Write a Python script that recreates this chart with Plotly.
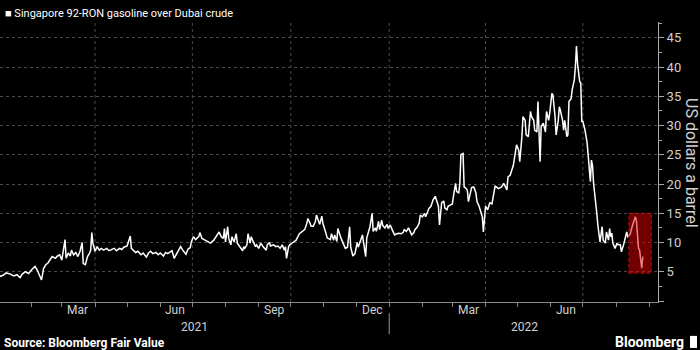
import plotly.graph_objects as go

dates = [
"2021-01-02","2021-01-05","2021-01-08","2021-01-12","2021-01-15","2021-01-18","2021-01-21","2021-01-23","2021-01-26","2021-01-29",
"2021-02-01","2021-02-04","2021-02-06","2021-02-08","2021-02-10","2021-02-12","2021-02-14","2021-02-16","2021-02-18","2021-02-20",
"2021-02-23","2021-02-25","2021-02-27","2021-03-01","2021-03-02","2021-03-04","2021-03-05","2021-03-07","2021-03-09","2021-03-10",
"2021-03-12","2021-03-14","2021-03-16","2021-03-18","2021-03-20","2021-03-21","2021-03-23","2021-03-25","2021-03-27","2021-03-28",
"2021-03-29","2021-03-30","2021-04-01","2021-04-03","2021-04-05","2021-04-07","2021-04-09","2021-04-12","2021-04-14","2021-04-17",
"2021-04-19","2021-04-21","2021-04-24","2021-04-26","2021-04-28","2021-05-01","2021-05-02","2021-05-04","2021-05-05","2021-05-07",
"2021-05-09","2021-05-11","2021-05-14","2021-05-16","2021-05-19","2021-05-21","2021-05-23","2021-05-25","2021-05-28","2021-05-30",
"2021-06-01","2021-06-04","2021-06-06","2021-06-08",
"2021-06-12","2021-06-14","2021-06-16","2021-06-18","2021-06-20","2021-06-22","2021-06-25","2021-06-27","2021-06-29","2021-06-30",
"2021-07-02","2021-07-04","2021-07-07","2021-07-08","2021-07-10","2021-07-12","2021-07-14","2021-07-17","2021-07-18","2021-07-21",
"2021-07-23","2021-07-25","2021-07-26","2021-07-28","2021-07-30","2021-07-31","2021-08-01","2021-08-03","2021-08-04","2021-08-06",
"2021-08-07","2021-08-09","2021-08-11","2021-08-12","2021-08-14","2021-08-15","2021-08-17","2021-08-18","2021-08-19","2021-08-21",
"2021-08-22","2021-08-24","2021-08-25","2021-08-27","2021-08-29","2021-08-30","2021-09-01","2021-09-03","2021-09-05","2021-09-08",
"2021-09-09","2021-09-11","2021-09-12","2021-09-15","2021-09-17","2021-09-19","2021-09-21","2021-09-23","2021-09-25","2021-09-26",
"2021-09-27","2021-09-29","2021-09-30","2021-10-03","2021-10-06","2021-10-09","2021-10-11","2021-10-14","2021-10-16","2021-10-17",
"2021-10-19","2021-10-20","2021-10-22","2021-10-24","2021-10-25","2021-10-27","2021-10-28","2021-10-30","2021-10-31","2021-11-03",
"2021-11-04","2021-11-07",
"2021-11-08","2021-11-10","2021-11-11","2021-11-13","2021-11-14","2021-11-17","2021-11-18","2021-11-21","2021-11-23","2021-11-25",
"2021-11-26","2021-11-28","2021-11-30","2021-12-02","2021-12-03","2021-12-05","2021-12-07","2021-12-08","2021-12-10","2021-12-11",
"2021-12-13","2021-12-14","2021-12-16","2021-12-17","2021-12-19","2021-12-20","2021-12-22","2021-12-23","2021-12-25","2021-12-26",
"2021-12-28","2021-12-30","2021-12-31","2022-01-02","2022-01-03","2022-01-05","2022-01-06","2022-01-08","2022-01-10","2022-01-12",
"2022-01-14","2022-01-15","2022-01-17","2022-01-19","2022-01-20","2022-01-22","2022-01-24","2022-01-25","2022-01-27","2022-01-29",
"2022-01-30","2022-02-01","2022-02-03","2022-02-04","2022-02-06","2022-02-07","2022-02-09","2022-02-11","2022-02-13","2022-02-14",
"2022-02-16","2022-02-17","2022-02-19","2022-02-21","2022-02-22","2022-02-24","2022-02-25","2022-02-27","2022-03-01","2022-03-02",
"2022-03-04","2022-03-05","2022-03-07","2022-03-08","2022-03-09","2022-03-11","2022-03-12","2022-03-14","2022-03-15","2022-03-16",
"2022-03-18","2022-03-19","2022-03-21","2022-03-23","2022-03-24","2022-03-26","2022-03-28","2022-03-29","2022-03-30","2022-03-31",
"2022-04-01","2022-04-03","2022-04-04","2022-04-05","2022-04-07","2022-04-08","2022-04-10","2022-04-11","2022-04-13",
"2022-04-16","2022-04-18","2022-04-21","2022-04-22","2022-04-24","2022-04-25","2022-04-27","2022-04-28","2022-04-30","2022-05-02",
"2022-05-03","2022-05-05","2022-05-06","2022-05-08","2022-05-09","2022-05-11","2022-05-13","2022-05-14","2022-05-16","2022-05-17",
"2022-05-19","2022-05-20","2022-05-22","2022-05-23","2022-05-25","2022-05-27","2022-05-28","2022-05-30","2022-05-31","2022-06-02",
"2022-06-03","2022-06-05","2022-06-06","2022-06-08","2022-06-09","2022-06-10","2022-06-12","2022-06-13","2022-06-14","2022-06-16",
"2022-06-17","2022-06-18","2022-06-20","2022-06-21","2022-06-23","2022-06-24","2022-06-25","2022-06-26","2022-06-28","2022-06-29",
"2022-06-30","2022-07-01","2022-07-03","2022-07-05","2022-07-06","2022-07-08","2022-07-09","2022-07-10","2022-07-11","2022-07-13",
"2022-07-14","2022-07-15","2022-07-17","2022-07-19","2022-07-20","2022-07-22","2022-07-23","2022-07-25","2022-07-26","2022-07-27",
"2022-07-28","2022-07-29","2022-07-31","2022-08-02","2022-08-03","2022-08-05","2022-08-06","2022-08-08","2022-08-09","2022-08-11",
"2022-08-12","2022-08-14","2022-08-16","2022-08-17","2022-08-19","2022-08-20","2022-08-22","2022-08-23","2022-08-25","2022-08-26",
]

spread = [
4.2,4.4,4.8,4.6,4.3,4.5,4.0,4.6,5.0,4.7,
5.4,5.9,5.3,4.4,3.6,5.6,6.2,6.5,7.0,7.6,
7.3,7.7,7.9,7.0,8.2,10.5,7.3,8.2,7.7,8.7,
7.9,8.3,7.6,8.5,10.0,6.4,6.2,7.6,8.2,8.7,
11.7,9.9,8.5,9.3,8.7,9.0,8.7,9.0,8.6,8.8,
9.0,8.6,9.0,8.8,9.2,9.4,10.1,11.1,9.0,8.7,
8.3,8.5,7.9,8.2,7.5,8.2,8.5,8.1,8.3,7.9,
8.2,7.7,8.3,8.1,
8.6,7.3,7.9,8.7,9.3,8.7,8.0,8.9,9.1,10.1,
11.0,10.5,11.0,11.7,10.7,10.5,10.3,10.1,9.9,10.4,
11.0,11.5,11.8,11.0,10.7,12.4,10.1,12.7,10.7,9.6,
11.0,10.1,11.5,9.9,9.3,9.0,8.6,9.3,9.0,9.6,
11.5,9.9,11.0,10.1,9.3,9.6,9.0,9.9,9.3,8.7,
9.6,10.0,9.4,9.6,9.3,9.4,9.0,9.6,8.7,9.3,
7.3,9.3,9.6,10.0,10.4,11.5,11.8,12.2,13.3,14.1,
13.3,12.8,12.8,13.6,14.7,13.8,13.1,14.5,13.3,11.5,
10.8,10.5,
11.5,10.4,11.3,10.2,12.4,10.7,10.2,9.0,9.2,12.7,
9.2,7.7,8.1,10.0,9.2,10.4,11.3,10.0,7.6,10.8,
11.9,12.7,15.0,11.9,12.5,11.9,13.6,12.2,13.8,12.9,
12.5,13.1,12.4,13.0,12.5,11.7,11.3,11.5,11.6,11.5,
11.7,12.2,11.9,12.5,12.0,11.3,11.7,12.2,12.6,13.3,
14.7,14.4,15.0,14.4,15.3,15.8,16.2,17.3,17.9,17.3,
16.2,13.0,16.8,17.1,15.9,15.6,16.2,16.4,16.6,17.9,
20.1,18.7,18.5,20.1,25.0,25.2,19.5,19.2,18.9,17.0,
18.5,19.4,19.5,18.5,17.0,16.2,15.0,14.4,11.8,15.0,
16.2,15.6,16.2,16.8,16.6,17.7,19.7,19.5,19.2,
19.5,20.1,19.0,21.2,21.5,22.1,23.2,24.4,26.7,25.8,
23.8,28.1,31.5,30.9,28.4,28.1,32.4,31.5,30.9,29.2,
28.9,34.1,23.8,29.8,30.4,28.9,32.4,30.9,32.1,35.5,
35.2,31.5,28.4,30.9,33.2,32.6,30.9,29.2,30.9,28.1,
28.4,34.1,34.6,36.1,37.8,40.1,43.6,40.6,37.5,37.3,
30.7,30.7,29.2,27.0,25.0,20.4,24.1,23.2,20.1,17.3,
15.0,13.0,10.1,12.7,10.4,9.9,11.8,10.4,12.4,11.0,
11.6,9.9,9.0,9.9,9.6,9.6,8.4,9.6,10.4,11.8,
11.0,11.3,12.7,13.3,14.4,13.8,9.0,8.7,5.6,7.6,
]

x_range = ["2021-01-02 05:00", "2022-09-09 05:00"]
y_range = [-0.17, 47.7]
y_ticks = [0, 5, 10, 15, 20, 25, 30, 35, 40, 45]
y_ticktext = ["", "5", "10", "15", "20", "25", "30", "35", "40", "45"]
month_ticks = ["2021-02-01","2021-03-01","2021-04-01","2021-05-01","2021-06-01","2021-07-01","2021-08-01",
               "2021-09-01","2021-10-01","2021-11-01","2021-12-01","2022-01-01","2022-02-01","2022-03-01",
               "2022-04-01","2022-05-01","2022-06-01","2022-07-01","2022-08-01","2022-09-01"]
grid_dates = ["2021-04-01","2021-07-01","2021-10-01","2022-01-01","2022-04-01","2022-07-01"]
month_label_dates = ["2021-03-16","2021-06-15","2021-09-15","2021-12-16","2022-03-16","2022-06-15"]
month_labels = ["Mar","Jun","Sep","Dec","Mar","Jun"]
year_label_dates = ["2021-07-03","2022-05-07"]
year_labels = ["2021","2022"]
year_break = "2022-01-01"
box_x = ["2022-08-13", "2022-09-03"]
box_y = [4.75, 15.0]

FONT = "Roboto"
TXT = "#d0d0d0"
GRID = "#4a4a4a"

fig = go.Figure()
fig.add_trace(go.Scatter(x=dates, y=spread, mode="lines",
                         line=dict(color="white", width=1.5), hoverinfo="skip"))

shapes = []
for g in grid_dates:
    shapes.append(dict(type="line", xref="x", yref="paper", x0=g, x1=g, y0=0, y1=1,
                       line=dict(color=GRID, width=1, dash="dot"), layer="below"))
shapes.append(dict(type="line", xref="x", yref="paper", x0=year_break, x1=year_break,
                   y0=-0.04, y1=-0.115, line=dict(color="#999999", width=1)))
shapes.append(dict(type="rect", xref="x", yref="y", x0=box_x[0], x1=box_x[1], y0=box_y[0], y1=box_y[1],
                   fillcolor="rgba(225,0,0,0.5)", line=dict(color="#e00000", width=1, dash="dot"),
                   layer="above"))
# Bloomberg logo block
shapes.append(dict(type="rect", xref="paper", yref="paper", x0=1.0486, x1=1.0593, y0=-0.164, y1=-0.121,
                   fillcolor="white", line=dict(width=0)))

ann = []
for d, t in zip(month_label_dates, month_labels):
    ann.append(dict(x=d, y=-0.028, xref="x", yref="paper", text=t, showarrow=False,
                    xanchor="center", yanchor="middle", font=dict(family=FONT, size=12, color=TXT)))
for d, t in zip(year_label_dates, year_labels):
    ann.append(dict(x=d, y=-0.088, xref="x", yref="paper", text=t, showarrow=False,
                    xanchor="center", yanchor="middle", font=dict(family=FONT, size=12, color=TXT)))
ann.append(dict(x=0.005, y=1.032, xref="paper", yref="paper",
                text="■ Singapore 92-RON gasoline over Dubai crude", showarrow=False,
                xanchor="left", yanchor="middle", font=dict(family=FONT, size=11, color="white")))
ann.append(dict(x=1.0517, y=0.496, xref="paper", yref="paper", text="US dollars a barrel",
                textangle=90, showarrow=False, xanchor="center", yanchor="middle",
                font=dict(family=FONT, size=16, color=TXT)))
ann.append(dict(x=0.003, y=-0.145, xref="paper", yref="paper", text="<b>Source: Bloomberg Fair Value</b>",
                showarrow=False, xanchor="left", yanchor="middle",
                font=dict(family=FONT, size=12, color="white")))
ann.append(dict(x=1.0425, y=-0.143, xref="paper", yref="paper", text="<b>Bloomberg</b>",
                showarrow=False, xanchor="right", yanchor="middle",
                font=dict(family=FONT, size=14, color="white")))

fig.update_layout(
    width=700, height=350,
    margin=dict(l=0, r=42, t=22, b=48),
    paper_bgcolor="black", plot_bgcolor="black",
    showlegend=False,
    shapes=shapes, annotations=ann,
    xaxis=dict(type="date", range=x_range, tickmode="array", tickvals=month_ticks,
               ticktext=[""] * len(month_ticks), ticks="outside", ticklen=4, tickcolor="#888888",
               showgrid=False, showline=True, linecolor="#888888", linewidth=1, zeroline=False,
               fixedrange=True),
    yaxis=dict(side="right", range=y_range, tickmode="array", tickvals=y_ticks, ticktext=y_ticktext,
               ticks="outside", ticklen=5, tickcolor="#aaaaaa",
               minor=dict(tickmode="linear", tick0=0, dtick=2.5, ticks="outside", ticklen=3,
                          tickcolor="#aaaaaa", showgrid=False),
               showgrid=True, gridcolor=GRID, griddash="dot", gridwidth=1,
               showline=True, linecolor="#aaaaaa", linewidth=1, zeroline=False,
               tickfont=dict(family=FONT, size=13, color=TXT), fixedrange=True),
)

fig.write_html("out.html")
